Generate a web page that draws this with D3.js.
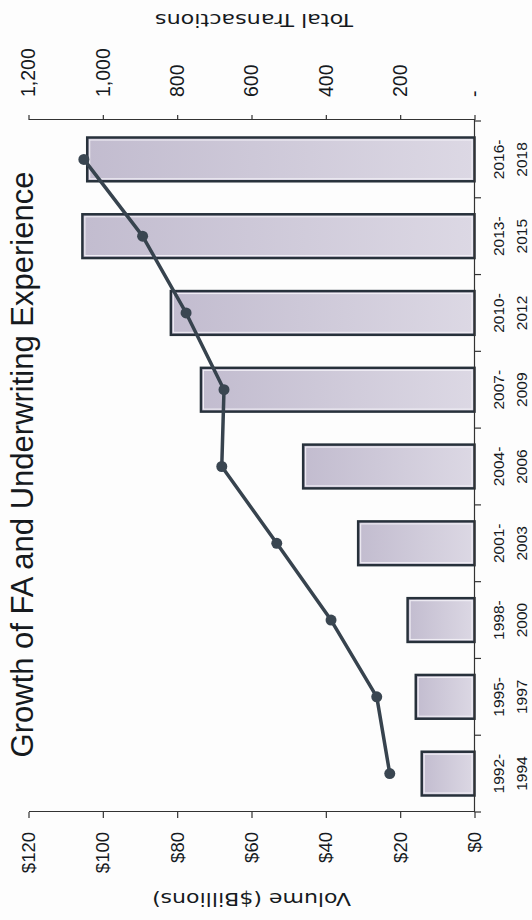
<!DOCTYPE html>
<html>
<head>
<meta charset="utf-8">
<script src="https://cdn.jsdelivr.net/npm/d3@7"></script>
<style>
  html, body { margin: 0; padding: 0; background: #fff; }
  svg { display: block; }
</style>
</head>
<body>
<svg id="chart" width="532" height="920"></svg>
<script>
// ---- data ----
const categories = ["1992-1994", "1995-1997", "1998-2000", "2001-2003", "2004-2006",
                    "2007-2009", "2010-2012", "2013-2015", "2016-2018"];
const volume = [14.2, 15.8, 18.0, 31.3, 46.1, 73.6, 81.7, 105.5, 104.2];      // $ billions
const transactions = [228, 263, 386, 532, 680, 674, 776, 893, 1051];          // count
const volumeTicks = [0, 20, 40, 60, 80, 100, 120];
const transactionTicks = [0, 200, 400, 600, 800, 1000, 1200];
const chartTitle = "Growth of FA and Underwriting Experience";
const volumeTitle = "Volume ($Billions)";
const transactionTitle = "Total Transactions";

// ---- layout (chart drawn in landscape, then turned a quarter to the left) ----
const W = 920, H = 532;
const plot = { left: 108, right: 799, top: 28.5, bottom: 474.5 };
const axisFont = "'Liberation Sans', Arial, sans-serif";
const titleFont = "'DejaVu Sans', Verdana, sans-serif";
const ink = "#161a1e";

const svg = d3.select("#chart");
svg.append("rect").attr("width", 532).attr("height", 920).attr("fill", "#fdfdfd");

const defs = svg.append("defs");
const grad = defs.append("linearGradient").attr("id", "barGrad")
  .attr("x1", 0).attr("y1", 0).attr("x2", 0).attr("y2", 1);
grad.append("stop").attr("offset", "0%").attr("stop-color", "#c2bccf");
grad.append("stop").attr("offset", "100%").attr("stop-color", "#dcd8e4");

const g = svg.append("g").attr("transform", `translate(0,${W}) rotate(-90)`);

const x = d3.scaleBand().domain(categories)
  .range([plot.left, plot.right]).paddingInner(0.43).paddingOuter(0.215);
const yL = d3.scaleLinear().domain([0, 120]).range([plot.bottom, plot.top]);
const yR = d3.scaleLinear().domain([0, 1200]).range([plot.bottom, plot.top]);
const bw = x.bandwidth();

const rows = categories.map((c, i) => ({ cat: c, vol: volume[i], tr: transactions[i] }));

// bars
g.append("g").selectAll("rect").data(rows).join("rect")
  .attr("x", d => x(d.cat)).attr("width", bw)
  .attr("y", d => yL(d.vol)).attr("height", d => yL(0) - yL(d.vol))
  .attr("fill", "url(#barGrad)").attr("stroke", "#27313b").attr("stroke-width", 2.5);
g.append("g").selectAll("rect").data(rows).join("rect")
  .attr("x", d => x(d.cat) + 2.5).attr("width", bw - 5)
  .attr("y", d => yL(d.vol) + 2.5).attr("height", d => Math.max(0, yL(0) - yL(d.vol) - 5))
  .attr("fill", "none").attr("stroke", "#f3f1f7").attr("stroke-width", 1);

// left (volume) axis
const ax1 = g.append("g").attr("transform", `translate(${plot.left},0)`)
  .call(d3.axisLeft(yL).tickValues(volumeTicks).tickFormat(d => "$" + d)
    .tickSize(6).tickSizeOuter(0).tickPadding(14));
ax1.attr("font-size", 18.5);
// right (transactions) axis
const ax2 = g.append("g").attr("transform", `translate(${plot.right + 1},0)`)
  .call(d3.axisRight(yR).tickValues(transactionTicks)
    .tickFormat(d => d === 0 ? "-" : d3.format(",")(d))
    .tickSize(5).tickSizeOuter(0).tickPadding(18));
ax2.attr("font-size", 19.5);
[ax1, ax2].forEach(a => {
  a.attr("font-family", axisFont);
  a.selectAll("text").attr("fill", ink);
  a.selectAll("line,.domain").attr("stroke", "#333").attr("stroke-width", 1.2);
});

// category axis
const catAxis = g.append("g");
catAxis.append("line").attr("x1", plot.left).attr("x2", plot.right + 1)
  .attr("y1", yL(0)).attr("y2", yL(0)).attr("stroke", "#333").attr("stroke-width", 1.2);
catAxis.selectAll("line.tick").data(d3.range(categories.length + 1)).join("line")
  .attr("class", "tick")
  .attr("x1", i => x.range()[0] + i * x.step()).attr("x2", i => x.range()[0] + i * x.step())
  .attr("y1", yL(0)).attr("y2", yL(0) + 6.5).attr("stroke", "#333").attr("stroke-width", 1.2);
const catText = catAxis.selectAll("text").data(categories).join("text")
  .attr("text-anchor", "middle").attr("font-family", axisFont).attr("font-size", 15.5)
  .attr("fill", ink);
catText.append("tspan").attr("x", d => x(d) + bw / 2).attr("y", yL(0) + 29)
  .text(d => d.split("-")[0] + "-");
catText.append("tspan").attr("x", d => x(d) + bw / 2).attr("y", yL(0) + 52.5)
  .text(d => d.split("-")[1]);

// transactions line
const line = d3.line().x(d => x(d.cat) + bw / 2).y(d => yR(d.tr));
g.append("path").datum(rows).attr("d", line)
  .attr("fill", "none").attr("stroke", "#37434e").attr("stroke-width", 3.5)
  .attr("stroke-linejoin", "round");
g.append("g").selectAll("circle").data(rows).join("circle")
  .attr("cx", d => x(d.cat) + bw / 2).attr("cy", d => yR(d.tr)).attr("r", 5.5)
  .attr("fill", "#3a4651");

// titles
g.append("text").attr("x", (plot.left + plot.right) / 2 + 2).attr("y", 32.5)
  .attr("text-anchor", "middle").attr("font-family", axisFont).attr("font-size", 31)
  .attr("fill", ink).text(chartTitle);
g.append("text").attr("transform", `translate(27.5,${(plot.top + plot.bottom) / 2}) rotate(-90)`)
  .attr("text-anchor", "middle").attr("font-family", titleFont).attr("font-size", 17)
  .attr("textLength", 199).attr("lengthAdjust", "spacingAndGlyphs")
  .attr("fill", ink).text(volumeTitle);
g.append("text").attr("transform", `translate(906,${(plot.top + plot.bottom) / 2 + 2.5}) rotate(-90)`)
  .attr("text-anchor", "middle").attr("font-family", titleFont).attr("font-size", 17)
  .attr("textLength", 198).attr("lengthAdjust", "spacingAndGlyphs")
  .attr("fill", ink).text(transactionTitle);
</script>
</body>
</html>
